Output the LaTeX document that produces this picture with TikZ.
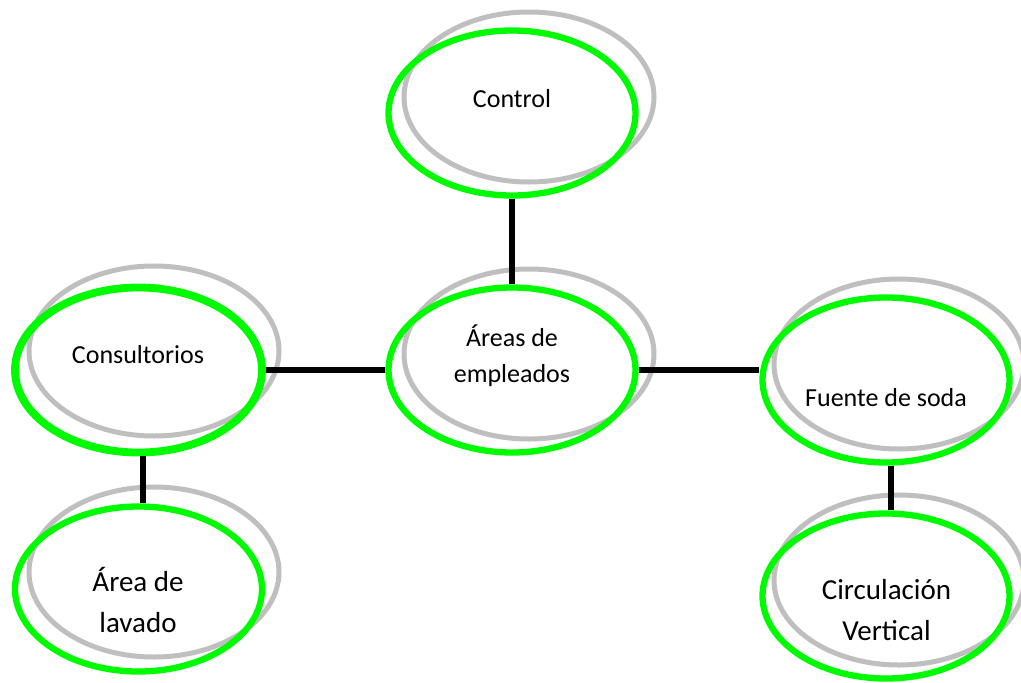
\documentclass[tikz,border=0pt]{standalone}
\usepackage{fontspec}
\setmainfont{Carlito}
\usetikzlibrary{shapes.geometric}
\definecolor{ringgreen}{RGB}{0,250,0}
\definecolor{ringgray}{RGB}{191,191,191}
\tikzset{
  shadowring/.style={ellipse, draw=ringgray, line width=5pt, inner sep=0pt,
    minimum width=250pt, minimum height=170pt},
  mainring/.style={ellipse, draw=ringgreen, line width=6.3pt, inner sep=0pt,
    minimum width=247pt, minimum height=165pt},
  link/.style={draw=black, line width=5.8pt},
  label/.style={anchor=base, align=center, inner sep=0pt,
    font=\fontsize{26pt}{36pt}\selectfont},
  biglabel/.style={anchor=base, align=center, inner sep=0pt,
    font=\fontsize{29pt}{41pt}\selectfont}
}
\begin{document}
\begin{tikzpicture}[x=1pt,y=-1pt]
\useasboundingbox (0,0) rectangle (1021,683);
% grey back rings
\node[shadowring] (gControl) at (529,97) {};
\node[shadowring] (gAreas)   at (529,354) {};
\node[shadowring] (gConsult) at (154,351) {};
\node[shadowring] (gFuente)  at (899,364) {};
\node[shadowring] (gCirc)    at (899,580) {};
\node[shadowring] (gLavado)  at (154,572) {};
% green front rings
\node[mainring] (control) at (512,113) {};
\node[mainring] (areas)   at (512,370) {};
\node[mainring, line width=7.8pt] (consult) at (138.5,370) {};
\node[mainring] (fuente)  at (886,380) {};
\node[mainring] (circ)    at (886,596) {};
\node[mainring] (lavado)  at (138.5,589) {};
% connectors
\draw[link] (control.south) -- (areas.north);
\draw[link] (consult.east) -- (areas.west);
\draw[link] (areas.east) -- (areas.east -| fuente.west);
\draw[link] ([xshift=4.5pt]consult.south) -- ([xshift=4.5pt]lavado.north);
\draw[link] ([xshift=5pt]fuente.south) -- ([xshift=5pt]circ.north);
% labels (multi-line labels sit on the baseline of their last line)
\node[label] (tControl) at (512,107) {Control};
\node[label] (tAreas)   at (512,382) {Áreas de\\empleados};
\node[label] (tConsult) at (138,363) {Consultorios};
\node[label] (tFuente)  at (886,406) {Fuente de soda};
\node[biglabel] (tCirc)   at (886.5,640) {Circulación\\Vertical};
\node[biglabel] (tLavado) at (138,632) {Área de\\lavado};
\end{tikzpicture}
\end{document}
